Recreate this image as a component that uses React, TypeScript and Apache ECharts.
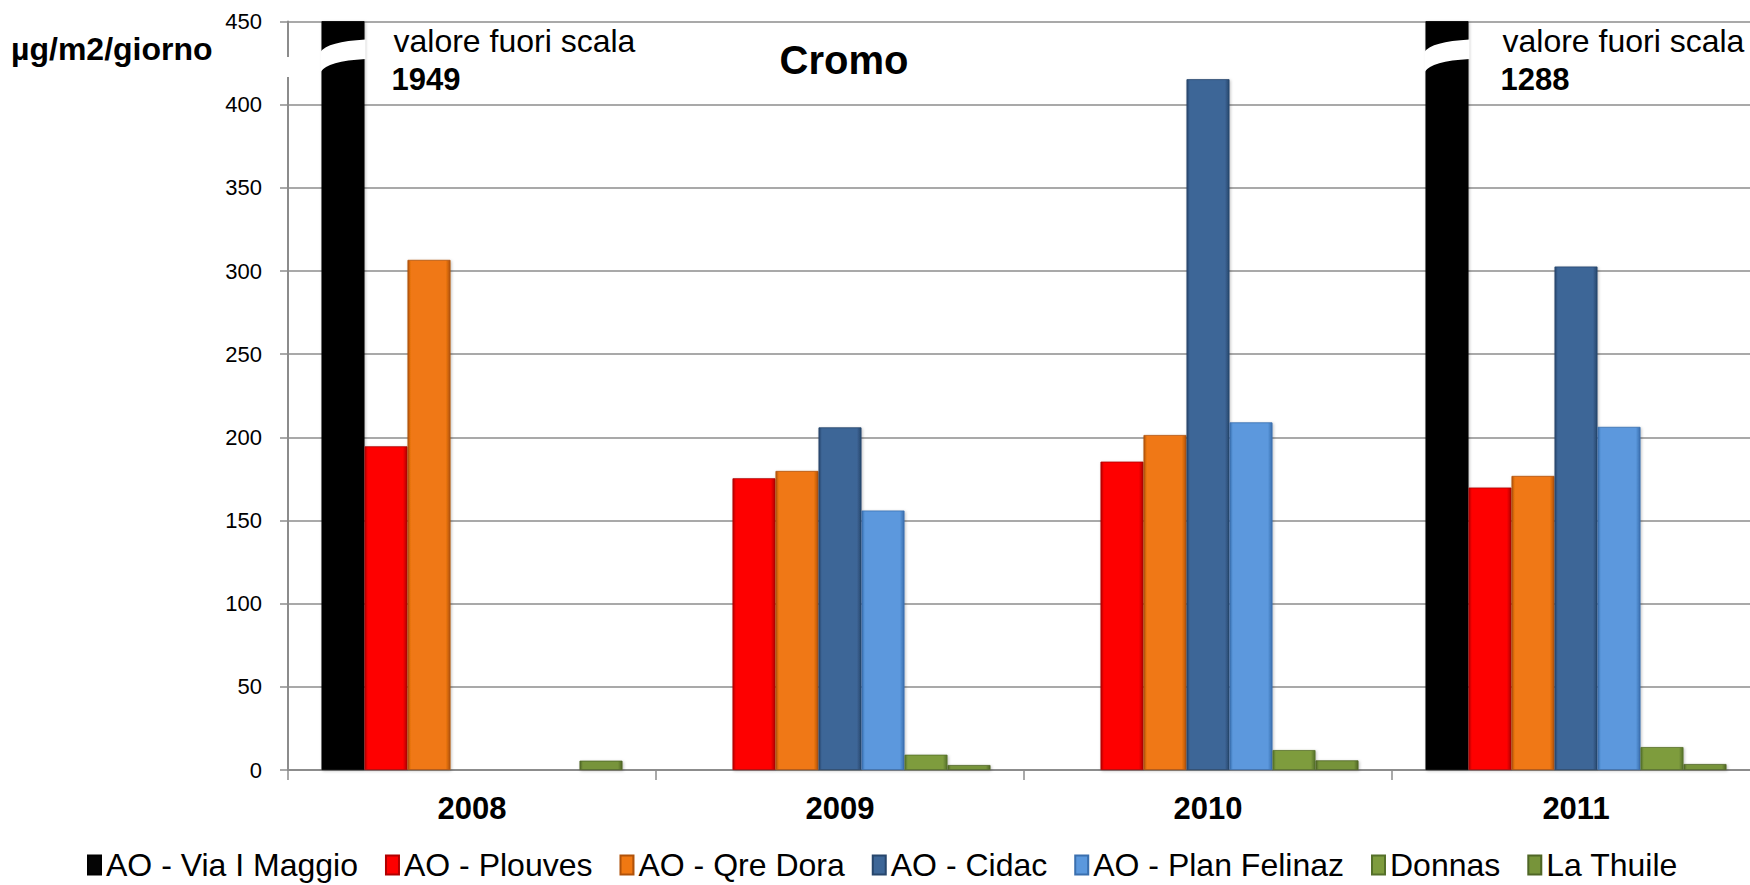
import React, { useEffect, useRef } from "react";
import * as echarts from "echarts";

const categories = ["2008", "2009", "2010", "2011"];
const seriesNames = [
  "AO - Via I Maggio",
  "AO - Plouves",
  "AO - Qre Dora",
  "AO - Cidac",
  "AO - Plan Felinaz",
  "Donnas",
  "La Thuile",
];
const viaIMaggio = [1949, null, null, 1288];
const plouves = [194.6, 175.4, 185.4, 169.8];
const qreDora = [306.7, 179.8, 201.4, 176.8];
const cidac = [null, 206, 415.3, 302.7];
const planFelinaz = [null, 156, 209, 206.3];
const donnas = [null, 9.2, 12.0, 13.8];
const laThuile = [5.6, 3.0, 5.8, 3.6];
const yTicks = [0, 50, 100, 150, 200, 250, 300, 350, 400, 450];
const outOfScaleCats = [0, 3];

const colors = ["#050505", "#FE0000", "#F07812", "#3D6697", "#5B98DD", "#7E9C3E", "#77943A"];
const edgeColors = ["#000000", "#B00000", "#B0520A", "#27466C", "#3A6FAE", "#55702A", "#4F6626"];

const FONT = "'Liberation Sans', Arial, sans-serif";
const BAR_W = 43;

echarts.graphic.registerShape(
  "brk",
  echarts.graphic.extendPath(
    "M-1 30.5 Q6 20 44 18 L44 37.5 Q6 39.5 -1 50.5 Z",
    {}
  )
);

export default function App() {
  const ref = useRef<HTMLDivElement>(null);
  useEffect(() => {
    if (!ref.current) return;
    const chart = echarts.init(ref.current, null, { renderer: "svg" });
    const allData = [viaIMaggio, plouves, qreDora, cidac, planFelinaz, donnas, laThuile];
    const option: any = {
      animation: false,
      backgroundColor: "#ffffff",
      color: colors,
      grid: { left: 288, top: 21.5, bottom: 115, right: 0, containLabel: false },
      legend: {
        data: seriesNames,
        left: 87,
        top: 849,
        padding: 0,
        itemWidth: 13,
        itemHeight: 19,
        itemGap: 27,
        icon: "rect",
        textStyle: { fontFamily: FONT, fontSize: 32, lineHeight: 32, color: "#000" },
      },
      xAxis: {
        type: "category",
        data: categories,
        boundaryGap: true,
        axisLine: { show: true, lineStyle: { color: "#8C8C8C", width: 2 } },
        axisTick: { show: true, length: 10, lineStyle: { color: "#8C8C8C", width: 1.5 } },
        axisLabel: {
          margin: 23,
          fontFamily: FONT,
          fontSize: 31,
          fontWeight: "bold",
          color: "#000",
        },
      },
      yAxis: {
        type: "value",
        min: yTicks[0],
        max: yTicks[yTicks.length - 1],
        interval: 50,
        axisLine: { show: true, lineStyle: { color: "#8C8C8C", width: 2 } },
        axisTick: { show: true, length: 8, lineStyle: { color: "#8C8C8C", width: 1.5 } },
        splitLine: { show: true, lineStyle: { color: "#8C8C8C", width: 1.5 } },
        axisLabel: {
          margin: 26,
          fontFamily: FONT,
          fontSize: 22,
          color: "#000",
        },
      },
      series: seriesNames.map((name, i) => ({
        name,
        type: "bar",
        data: allData[i],
        barWidth: BAR_W,
        barGap: "0%",
        clip: true,
        itemStyle: {
          color: new echarts.graphic.LinearGradient(0, 0, 1, 0, [
            { offset: 0, color: edgeColors[i] },
            { offset: 0.07, color: colors[i] },
            { offset: 0.9, color: colors[i] },
            { offset: 1, color: edgeColors[i] },
          ]),
          borderColor: edgeColors[i],
          borderWidth: 0.8,
          shadowColor: "rgba(0,0,0,0.25)",
          shadowBlur: 3,
          shadowOffsetX: 1,
          shadowOffsetY: 1,
        },
      })),
    };
    chart.setOption(option);

    const gy = chart.convertToPixel({ yAxisIndex: 0 }, yTicks[yTicks.length - 1]) as number;
    const ax = chart.convertToPixel({ xAxisIndex: 0 }, 0) as number;
    const catW = (chart.convertToPixel({ xAxisIndex: 0 }, 1) as number) - ax;
    const axisX = ax - catW / 2;
    const graphics: any[] = [];
    const textOffsets = [29, 34];
    outOfScaleCats.forEach((ci, k) => {
      const cx = chart.convertToPixel({ xAxisIndex: 0 }, ci) as number;
      const bx = cx - (seriesNames.length * BAR_W) / 2;
      graphics.push({
        type: "brk",
        x: bx,
        y: gy,
        z: 100,
        style: { fill: "#ffffff", stroke: null },
      });
      const tx = bx + BAR_W + textOffsets[k];
      graphics.push({
        type: "text",
        x: tx,
        y: gy + 19.5,
        z: 100,
        style: {
          text: "valore fuori scala",
          fontFamily: FONT,
          fontSize: 32,
          fill: "#000",
          align: "left",
          verticalAlign: "middle",
        },
      });
      graphics.push({
        type: "text",
        x: tx - 2,
        y: gy + 58,
        z: 100,
        style: {
          text: String(viaIMaggio[ci]),
          fontFamily: FONT,
          fontSize: 31,
          fontWeight: "bold",
          fill: "#000",
          align: "left",
          verticalAlign: "middle",
        },
      });
    });
    // gap in the y axis line
    graphics.push({
      type: "rect",
      z: 100,
      shape: { x: axisX - 4, y: gy + 35.5, width: 8, height: 20 },
      style: { fill: "#ffffff" },
    });
    graphics.push({
      type: "text",
      x: 844,
      y: 60,
      z: 100,
      style: {
        text: "Cromo",
        fontFamily: FONT,
        fontSize: 40,
        fontWeight: "bold",
        fill: "#000",
        align: "center",
        verticalAlign: "middle",
      },
    });
    graphics.push({
      type: "text",
      x: 11,
      y: 49,
      z: 100,
      style: {
        text: "µg/m2/giorno",
        fontFamily: FONT,
        fontSize: 32,
        fontWeight: "bold",
        fill: "#000",
        align: "left",
        verticalAlign: "middle",
      },
    });
    chart.setOption({ graphic: graphics });
    return () => chart.dispose();
  }, []);
  return (
    <div
      style={{ position: "fixed", left: 0, top: 0, width: 1750, height: 885, overflow: "hidden", background: "#fff" }}
    >
      <div ref={ref} style={{ width: 1760, height: 885 }} />
    </div>
  );
}
